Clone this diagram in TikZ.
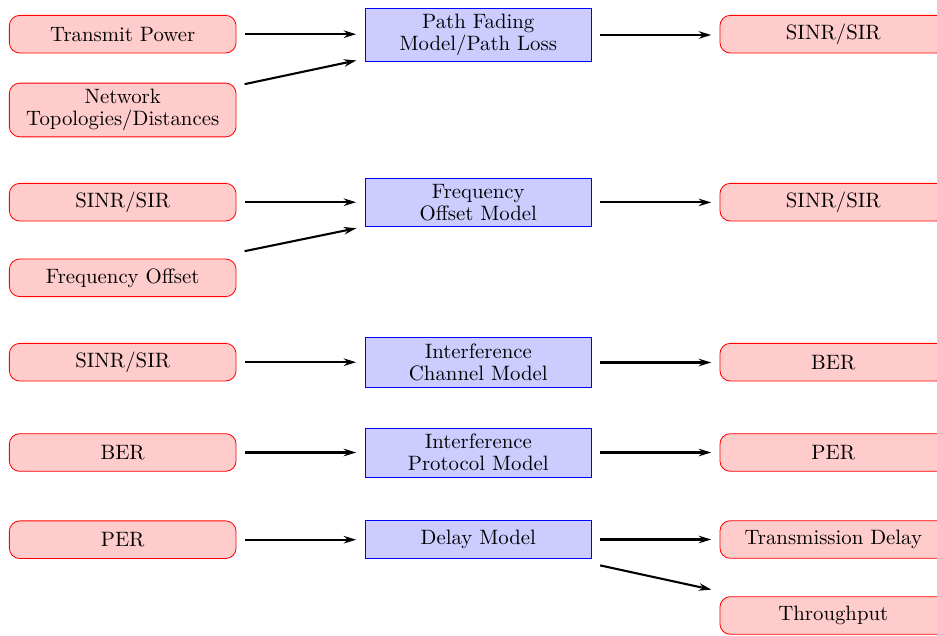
\documentclass[tikz,border=0pt]{standalone}
\usetikzlibrary{arrows.meta}
\begin{document}
\begin{tikzpicture}[x=0.4808pt,y=-0.4808pt,
  box/.style={font=\fontsize{10}{10.4}\selectfont, align=center, inner sep=3pt,
    minimum width=109pt, minimum height=18.1pt},
  param/.style={box, draw=red, fill=red!20, rounded corners=5pt},
  model/.style={box, draw=blue, fill=blue!20},
  arr/.style={line width=1pt, -{Stealth[length=6pt,width=3.6pt]},
    shorten <=4pt, shorten >=4pt}]
\useasboundingbox (0,0) rectangle (937,635);

% stage 1: path fading
\node[param] (tp)  at (122.7,34.2)  {Transmit Power};
\node[param] (net) at (122.7,110)   {Network\\Topologies/Distances};
\node[model] (pf)  at (478.3,35)    {Path Fading\\Model/Path Loss};
\node[param] (s1)  at (833.3,34.2)  {SINR/SIR};

% stage 2: frequency offset
\node[param] (s2in)  at (122.7,202.2) {SINR/SIR};
\node[param] (fo)    at (122.7,277.8) {Frequency Offset};
\node[model] (fom)   at (478.3,202.4) {Frequency\\Offset Model};
\node[param] (s2out) at (833.3,202.2) {SINR/SIR};

% stage 3: interference channel
\node[param] (s3in) at (122.7,362.2) {SINR/SIR};
\node[model] (icm)  at (478.3,362.5) {Interference\\Channel Model};
\node[param] (ber3) at (833.3,362.2) {BER};

% stage 4: interference protocol
\node[param] (ber4) at (122.7,452.5) {BER};
\node[model] (ipm)  at (478.3,452.5) {Interference\\Protocol Model};
\node[param] (per4) at (833.3,452.5) {PER};

% stage 5: delay
\node[param] (per5) at (122.7,539.7) {PER};
\node[model] (dm)   at (478.3,539.5) {Delay Model};
\node[param] (td)   at (833.3,539.5) {Transmission Delay};
\node[param] (thr)  at (833.3,615.5) {Throughput};

% connectors
\draw[arr] (tp.east) -- (tp.east -| pf.west);
\draw[arr] ([yshift=11.6pt]net.east) -- ([yshift=-11.4pt]pf.west);
\draw[arr] (pf.east) -- (pf.east -| s1.west);

\draw[arr] (s2in.east) -- (s2in.east -| fom.west);
\draw[arr] ([yshift=12pt]fo.east) -- ([yshift=-11.6pt]fom.west);
\draw[arr] (fom.east) -- (fom.east -| s2out.west);

\draw[arr] (s3in.east) -- (s3in.east -| icm.west);
\draw[arr] (icm.east) -- (icm.east -| ber3.west);

\draw[arr] (ber4.east) -- (ber4.east -| ipm.west);
\draw[arr] (ipm.east) -- (ipm.east -| per4.west);

\draw[arr] (per5.east) -- (per5.east -| dm.west);
\draw[arr] (dm.east) -- (dm.east -| td.west);
\draw[arr] ([yshift=-11.6pt]dm.east) -- ([yshift=11.6pt]thr.west);
\end{tikzpicture}
\end{document}
